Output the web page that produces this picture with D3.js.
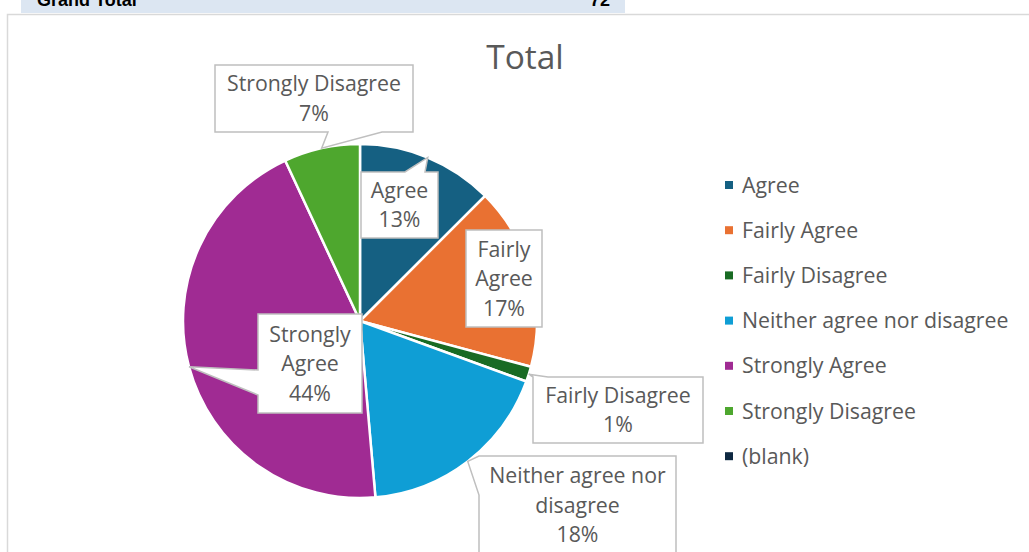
<!DOCTYPE html>
<html lang="en">
<head>
<meta charset="UTF-8">
<title>Total</title>
<script src="https://cdn.jsdelivr.net/npm/d3@7/dist/d3.min.js"></script>
<style>
  body { margin: 0; background: #fff; }
  svg { display: block; }
</style>
</head>
<body>
<div id="chart"></div>
<script>
// data (72 responses in total)
const categories = ["Agree", "Fairly Agree", "Fairly Disagree", "Neither agree nor disagree",
                    "Strongly Agree", "Strongly Disagree", "(blank)"];
const counts = [9, 12, 1, 13, 32, 5, 0];
const labelLines = [["Agree"], ["Fairly", "Agree"], ["Fairly Disagree"], ["Neither agree nor", "disagree"],
                    ["Strongly", "Agree"], ["Strongly Disagree"], []];
const colors = ["#156082", "#E97132", "#196B24", "#0F9ED5", "#A02B93", "#4EA72E", "#0E2841"];
const grandTotalLabel = "Grand Total";

const width = 1029, height = 552;
const cx = 360, cy = 321, radius = 177;
const font = "'Open Sans', 'Noto Sans', sans-serif";
const labelSize = "21.3px";

// callout boxes: x, y, w, h and which side the pointer leaves from
const callouts = [
  { box: [361, 172, 77, 66], side: "top", base: [405, 425] },
  { box: [466, 230, 76, 97], side: null },
  { box: [533, 377, 170, 66], side: "top", base: [533, 548] },
  { box: [479, 456, 197, 98], side: "left", base: [456, 495] },
  { box: [258, 314, 104, 99], side: "left", base: [370, 395] },
  { box: [215, 65, 198, 67], side: "bottom", base: [328, 382] },
  null
];

const svg = d3.select("#chart").append("svg")
  .attr("width", width)
  .attr("height", height);

// pivot table row peeking above the chart
svg.append("rect").attr("x", 21).attr("y", -2).attr("width", 604).attr("height", 15).attr("fill", "#DCE6F2");
svg.append("text").attr("x", 37).attr("y", 6)
  .style("font-family", "'Liberation Sans', Arial, sans-serif").style("font-weight", "bold").style("font-size", "18px")
  .text(grandTotalLabel);
svg.append("text").attr("x", 610).attr("y", 6).attr("text-anchor", "end")
  .style("font-family", "'Liberation Sans', Arial, sans-serif").style("font-weight", "bold").style("font-size", "18px")
  .text(d3.sum(counts));

// chart area
svg.append("rect").attr("x", 7.5).attr("y", 14.5).attr("width", width).attr("height", height)
  .attr("fill", "#fff").attr("stroke", "#D9D9D9").attr("stroke-width", 1.5);

svg.append("text").attr("x", 525).attr("y", 69).attr("text-anchor", "middle")
  .style("font-family", font).style("font-size", "33.5px").style("fill", "#595959")
  .text("Total");

const pie = d3.pie().sort(null).value(d => d)(counts);
const arc = d3.arc().innerRadius(0).outerRadius(radius);
const edge = d3.arc().innerRadius(radius).outerRadius(radius);
const pct = d3.format(".0%");
const total = d3.sum(counts);

const g = svg.append("g").attr("transform", `translate(${cx},${cy})`);
g.selectAll("path.slice")
  .data(pie.filter(d => d.value > 0))
  .join("path")
  .attr("class", "slice")
  .attr("d", arc)
  .attr("fill", d => colors[d.index])
  .attr("stroke", "#fff")
  .attr("stroke-width", 2.5)
  .attr("stroke-linejoin", "round");

// callout shape: rectangle with a pointer to the slice edge
function calloutPath(c, tip) {
  const [x, y, w, h] = c.box;
  const p = d3.path();
  p.moveTo(x, y);
  if (c.side === "top") { p.lineTo(c.base[0], y); p.lineTo(tip[0], tip[1]); p.lineTo(c.base[1], y); }
  p.lineTo(x + w, y);
  p.lineTo(x + w, y + h);
  if (c.side === "bottom") { p.lineTo(c.base[1], y + h); p.lineTo(tip[0], tip[1]); p.lineTo(c.base[0], y + h); }
  p.lineTo(x, y + h);
  if (c.side === "left") { p.lineTo(x, c.base[1]); p.lineTo(tip[0], tip[1]); p.lineTo(x, c.base[0]); }
  p.closePath();
  return p.toString();
}

pie.forEach((d, i) => {
  const c = callouts[i];
  if (!c || d.value === 0) return;
  const e = edge.centroid(d);
  const tip = [cx + e[0], cy + e[1]];
  svg.append("path")
    .attr("d", calloutPath(c, tip))
    .attr("fill", "#fff")
    .attr("stroke", "#BFBFBF")
    .attr("stroke-width", 1.5);
  const lines = labelLines[i].concat([pct(d.value / total)]);
  const lh = 29.5;
  const [x, y, w, h] = c.box;
  const midY = y + h / 2;
  const t = svg.append("text")
    .attr("text-anchor", "middle")
    .style("font-family", font).style("font-size", labelSize).style("fill", "#595959");
  lines.forEach((s, k) => {
    t.append("tspan")
      .attr("x", x + w / 2)
      .attr("y", midY + (k - (lines.length - 1) / 2) * lh + 7.5)
      .text(s);
  });
});

// legend
const legend = svg.append("g").attr("transform", "translate(725,185)");
const row = legend.selectAll("g").data(categories).join("g")
  .attr("transform", (d, i) => `translate(0,${i * 45.2})`);
row.append("rect").attr("x", 0).attr("y", -4).attr("width", 8).attr("height", 8)
  .attr("fill", (d, i) => colors[i]);
row.append("text").attr("x", 17).attr("y", 7.5)
  .style("font-family", font).style("font-size", labelSize).style("fill", "#595959")
  .text(d => d);
</script>
</body>
</html>
